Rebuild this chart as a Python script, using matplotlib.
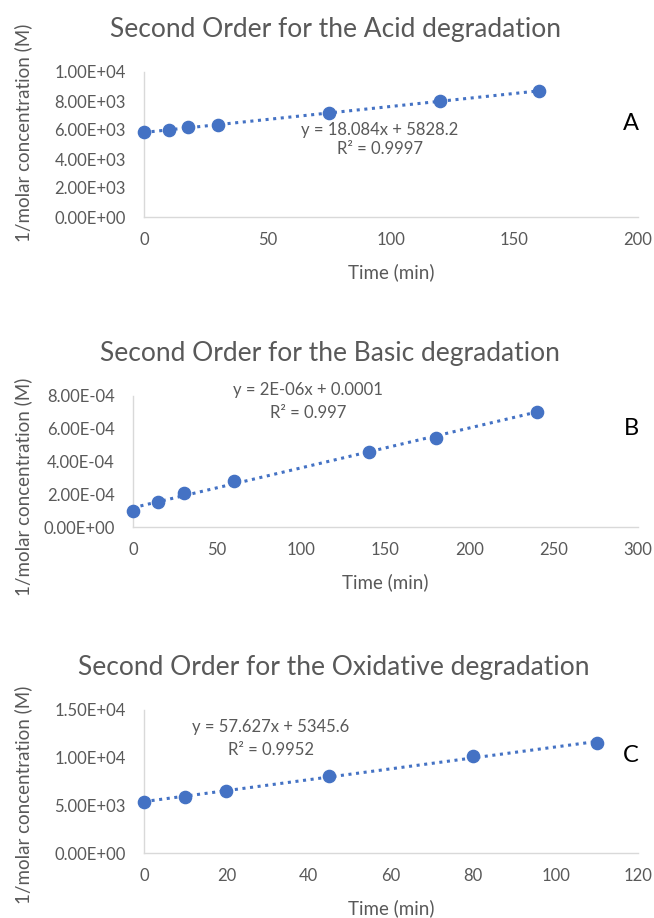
import matplotlib as mpl
mpl.use("Agg")
import matplotlib.pyplot as plt
import numpy as np
from matplotlib.ticker import FuncFormatter, MultipleLocator

mpl.rcParams["font.family"] = ["Lato", "DejaVu Sans"]

# DATA
acid_t = [0, 10, 18, 30, 75, 120, 160]
acid_y = [5830, 6000, 6200, 6350, 7150, 8000, 8700]
basic_t = [0, 15, 30, 60, 140, 180, 240]
basic_y = [1.0e-4, 1.5e-4, 2.05e-4, 2.8e-4, 4.6e-4, 5.45e-4, 7.05e-4]
oxid_t = [0, 10, 20, 45, 80, 110]
oxid_y = [5350, 5900, 6500, 8100, 10200, 11500]

titles = ["Second Order for the Acid degradation",
          "Second Order for the Basic degradation",
          "Second Order for the Oxidative degradation"]
eqs = ["y = 18.084x + 5828.2", "y = 2E-06x + 0.0001", "y = 57.627x + 5345.6"]
r2s = ["R² = 0.9997", "R² = 0.997", "R² = 0.9952"]
letters = ["A", "B", "C"]
xlims = [(0, 200, 50), (0, 300, 50), (0, 120, 20)]
ylims = [(0, 1.0e4, 2.0e3), (0, 8.0e-4, 2.0e-4), (0, 1.5e4, 5.0e3)]

# LAYOUT IN PIXELS (x, y from top-left of a 654x918 canvas)
W, H = 654, 918
boxes = [(144, 638, 72, 217), (133, 638, 396, 527), (144, 638, 710, 853)]  # left, right, top, bottom
title_xy = [(336, 29), (330, 353), (334, 667)]
eq_xy = [(380, 130), (308, 390), (271, 727)]
r2_xy = [(380, 149), (308, 413), (271, 750)]
letter_xy = [(631, 123), (631, 428), (631, 755)]
ylab_y = [133, 487, 795]
xlab_y = [272, 582, 908]

BLUE = "#4472C4"
GREY = "#595959"
SPINE = "#D9D9D9"


def fx(px):
    return px / W


def fy(py):
    return 1 - py / H


fig = plt.figure(figsize=(W / 100, H / 100), dpi=100)
series = [(acid_t, acid_y), (basic_t, basic_y), (oxid_t, oxid_y)]

for i, (t, y) in enumerate(series):
    l, r, tp, bt = boxes[i]
    ax = fig.add_axes([fx(l), fy(bt), (r - l) / W, (bt - tp) / H])
    t = np.array(t, dtype=float)
    y = np.array(y, dtype=float)
    # LINEAR TRENDLINE
    k, b = np.polyfit(t, y, 1)
    tt = np.array([t.min(), t.max()])
    ax.plot(tt, k * tt + b, linestyle=(0, (1, 1.5)), color=BLUE, linewidth=2.2, zorder=2)
    ax.plot(t, y, "o", color=BLUE, markersize=8.8, zorder=3, clip_on=False)

    x0, x1, dx = xlims[i]
    y0, y1, dy = ylims[i]
    ax.set_xlim(x0, x1)
    ax.set_ylim(y0, y1)
    ax.xaxis.set_major_locator(MultipleLocator(dx))
    ax.yaxis.set_major_locator(MultipleLocator(dy))
    ax.yaxis.set_major_formatter(FuncFormatter(lambda v, p: f"{v:.2E}"))

    for s in ["top", "right"]:
        ax.spines[s].set_visible(False)
    for s in ["left", "bottom"]:
        ax.spines[s].set_color(SPINE)
        ax.spines[s].set_linewidth(1.0)
    ax.tick_params(length=0, labelsize=12, colors=GREY)
    ax.tick_params(axis="y", pad=13)
    ax.tick_params(axis="x", pad=11)

    fig.text(fx(title_xy[i][0]), fy(title_xy[i][1]), titles[i], ha="center", va="center",
             fontsize=19, color=GREY)
    fig.text(fx((l + r) / 2), fy(xlab_y[i]), "Time (min)", ha="center", va="center",
             fontsize=13.5, color=GREY)
    fig.text(fx(23), fy(ylab_y[i]), "1/molar concentration (M)", rotation=90,
             ha="center", va="center", fontsize=13.5, color=GREY)

    fig.text(fx(eq_xy[i][0]), fy(eq_xy[i][1]), eqs[i], ha="center", va="center",
             fontsize=12, color=GREY)
    fig.text(fx(r2_xy[i][0]), fy(r2_xy[i][1]), r2s[i], ha="center", va="center",
             fontsize=12, color=GREY)
    fig.text(fx(letter_xy[i][0]), fy(letter_xy[i][1]), letters[i], ha="center", va="center",
             fontsize=17, color="black")

fig.savefig("out.png", dpi=100)
